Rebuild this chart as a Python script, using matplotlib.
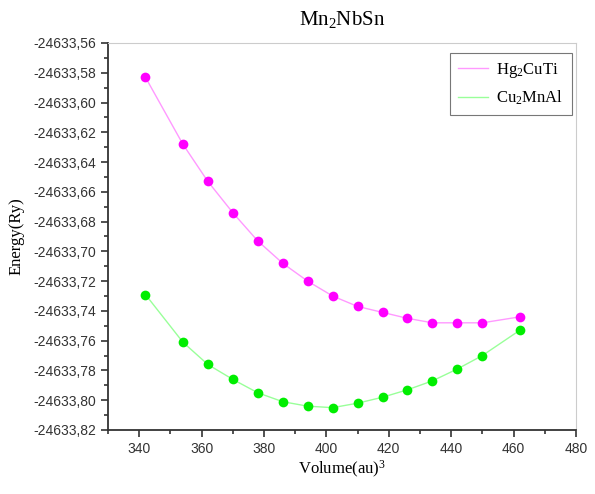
import matplotlib.pyplot as plt
from matplotlib.ticker import FuncFormatter, MultipleLocator

volume = [342, 354, 362, 370, 378, 386, 394, 402, 410, 418, 426, 434, 442, 450, 462]
e_hg2cuti = [-24633.583, -24633.628, -24633.653, -24633.674, -24633.693, -24633.708,
             -24633.720, -24633.730, -24633.737, -24633.741, -24633.745, -24633.748,
             -24633.748, -24633.748, -24633.744]
e_cu2mnal = [-24633.729, -24633.761, -24633.776, -24633.786, -24633.795, -24633.801,
             -24633.804, -24633.805, -24633.802, -24633.798, -24633.793, -24633.787,
             -24633.779, -24633.770, -24633.753]
labels = ["Hg$_2$CuTi", "Cu$_2$MnAl"]

plt.rcParams["mathtext.fontset"] = "custom"
plt.rcParams["mathtext.rm"] = "Liberation Serif"
plt.rcParams["mathtext.it"] = "Liberation Serif:italic"
plt.rcParams["mathtext.bf"] = "Liberation Serif:bold"
plt.rcParams["mathtext.default"] = "rm"

fig = plt.figure(figsize=(5.95, 4.94), dpi=100)
ax = fig.add_axes([0.1815, 0.1296, 0.7865, 0.7834])

ax.plot(volume, e_hg2cuti, color="#ff99ff", lw=1, label=labels[0])
ax.plot(volume, e_cu2mnal, color="#99ff99", lw=1, label=labels[1])
ax.plot(volume, e_hg2cuti, "o", color="#ff00ff", ms=7, mec="none")
ax.plot(volume, e_cu2mnal, "o", color="#00ee00", ms=7, mec="none")

ax.set_xlim(330, 480)
ax.set_ylim(-24633.82, -24633.56)
ax.xaxis.set_major_locator(MultipleLocator(20))
ax.xaxis.set_minor_locator(MultipleLocator(10))
ax.yaxis.set_major_locator(MultipleLocator(0.02))
ax.yaxis.set_minor_locator(MultipleLocator(0.01))
ax.yaxis.set_major_formatter(FuncFormatter(lambda v, p: ("%.2f" % v).replace(".", ",")))

ax.tick_params(which="both", direction="out", colors="#333333", labelsize=10, width=1.2)
ax.tick_params(which="major", length=5)
ax.tick_params(which="minor", length=3)
for t in ax.get_xticklabels() + ax.get_yticklabels():
    t.set_fontfamily("Liberation Sans")
    t.set_color("#333333")

ax.spines["left"].set_color("#333333")
ax.spines["bottom"].set_color("#333333")
ax.spines["left"].set_linewidth(1.3)
ax.spines["bottom"].set_linewidth(1.3)
ax.spines["top"].set_color("#cccccc")
ax.spines["right"].set_color("#cccccc")

ax.set_title("Mn$_2$NbSn", fontfamily="Liberation Serif", fontsize=15, pad=13)
ax.set_xlabel("Volume(au)$^3$", fontfamily="Liberation Serif", fontsize=12, labelpad=2)
ax.set_ylabel("Energy(Ry)", fontfamily="Liberation Serif", fontsize=12, labelpad=6)

leg = ax.legend(loc="upper right", bbox_to_anchor=(572 / 595, 1 - 53 / 494),
                bbox_transform=fig.transFigure, borderaxespad=0,
                prop={"family": "Liberation Serif", "size": 12},
                fancybox=False, edgecolor="#555555", handlelength=1.8,
                handletextpad=0.5, borderpad=0.5)
leg.get_frame().set_linewidth(0.8)

fig.savefig("out.png")
